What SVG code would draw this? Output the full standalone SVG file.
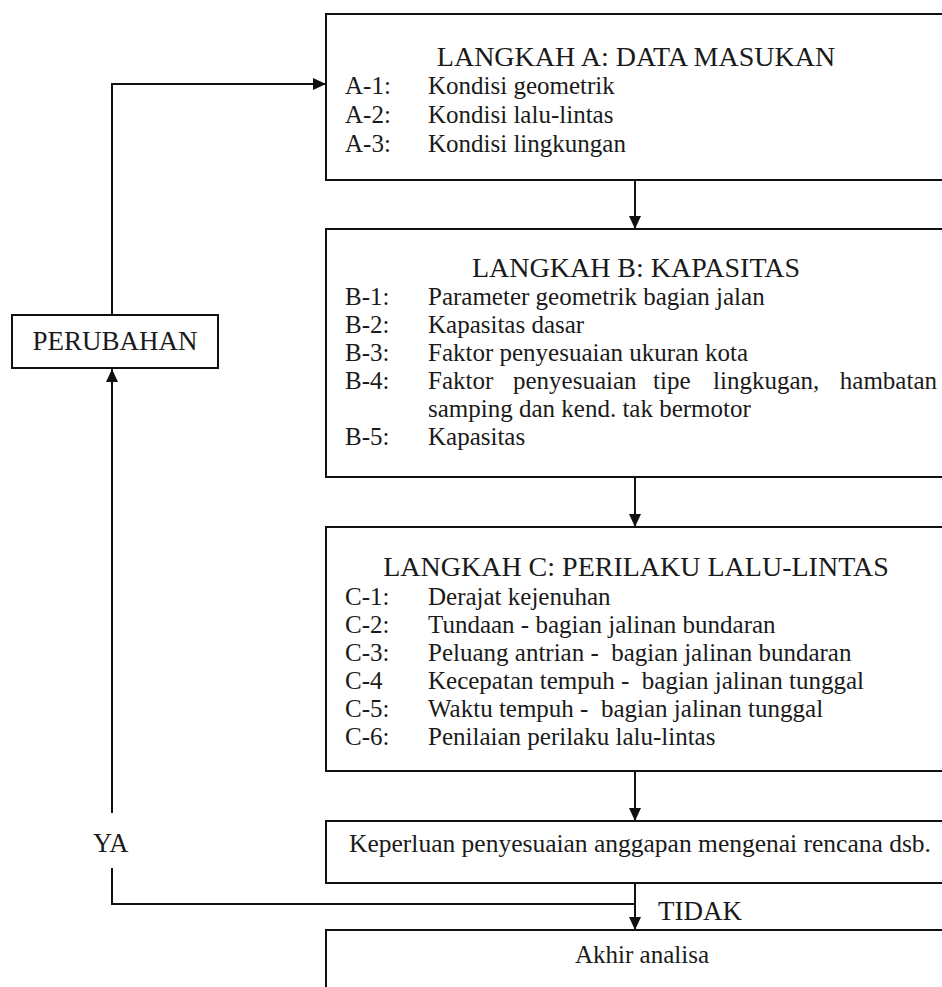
<svg xmlns="http://www.w3.org/2000/svg" width="942" height="987" viewBox="0 0 942 987">
<defs>
<marker id="ah" markerWidth="13" markerHeight="12" refX="13" refY="6" orient="auto" markerUnits="userSpaceOnUse">
<path d="M0,0 L13,6 L0,12 z" fill="#111"/>
</marker>
</defs>
<style>
.box{fill:#fff;stroke:#111;stroke-width:2}
.t{font-family:"Liberation Serif","Times New Roman",serif;fill:#1a1a1a}
.h{font-size:28px;text-anchor:middle}
.i{font-size:25px}
.c{text-anchor:middle}
.ln{fill:none;stroke:#111;stroke-width:2}
</style>
<rect width="942" height="987" fill="#fff"/>
<g id="connectors">
<path class="ln" d="M635,181 V229" marker-end="url(#ah)"/>
<path class="ln" d="M635,478 V527" marker-end="url(#ah)"/>
<path class="ln" d="M635,772 V821" marker-end="url(#ah)"/>
<path class="ln" d="M635,884 V930" marker-end="url(#ah)"/>
<path class="ln" d="M635,904 H112 V868"/>
<path class="ln" d="M112,813 V369" marker-end="url(#ah)"/>
<path class="ln" d="M112,315 V84 H326" marker-end="url(#ah)"/>
<text class="t" x="93" y="852" font-size="26.5">YA</text>
<text class="t" x="658" y="920" font-size="27">TIDAK</text>
</g>
<g id="nodeA">
<rect class="box" x="326" y="14" width="622" height="166"/>
<text class="t h" x="636" y="66">LANGKAH A: DATA MASUKAN</text>
<text class="t i" x="345" y="94">A-1:</text><text class="t i" x="428" y="94">Kondisi geometrik</text>
<text class="t i" x="345" y="123">A-2:</text><text class="t i" x="428" y="123">Kondisi lalu-lintas</text>
<text class="t i" x="345" y="152">A-3:</text><text class="t i" x="428" y="152">Kondisi lingkungan</text>
</g>
<g id="nodeB">
<rect class="box" x="326" y="229" width="622" height="248"/>
<text class="t h" x="636" y="277">LANGKAH B: KAPASITAS</text>
<text class="t i" x="345" y="305">B-1:</text><text class="t i" x="428" y="305">Parameter geometrik bagian jalan</text>
<text class="t i" x="345" y="333">B-2:</text><text class="t i" x="428" y="333">Kapasitas dasar</text>
<text class="t i" x="345" y="361">B-3:</text><text class="t i" x="428" y="361">Faktor penyesuaian ukuran kota</text>
<text class="t i" x="345" y="389">B-4:</text>
<text class="t i" y="389"><tspan x="428">Faktor</tspan><tspan x="513">penyesuaian</tspan><tspan x="653">tipe</tspan><tspan x="713">lingkugan,</tspan><tspan x="937" text-anchor="end">hambatan</tspan></text>
<text class="t i" x="428" y="417">samping dan kend. tak bermotor</text>
<text class="t i" x="345" y="445">B-5:</text><text class="t i" x="428" y="445">Kapasitas</text>
</g>
<g id="nodeC">
<rect class="box" x="326" y="527" width="622" height="244"/>
<text class="t h" x="636" y="576">LANGKAH C: PERILAKU LALU-LINTAS</text>
<text class="t i" x="345" y="605">C-1:</text><text class="t i" x="428" y="605">Derajat kejenuhan</text>
<text class="t i" x="345" y="633">C-2:</text><text class="t i" x="428" y="633">Tundaan - bagian jalinan bundaran</text>
<text class="t i" x="345" y="661">C-3:</text><text class="t i" x="428" y="661">Peluang antrian -&#160; bagian jalinan bundaran</text>
<text class="t i" x="345" y="689">C-4</text><text class="t i" x="428" y="689">Kecepatan tempuh -&#160; bagian jalinan tunggal</text>
<text class="t i" x="345" y="717">C-5:</text><text class="t i" x="428" y="717">Waktu tempuh -&#160; bagian jalinan tunggal</text>
<text class="t i" x="345" y="745">C-6:</text><text class="t i" x="428" y="745">Penilaian perilaku lalu-lintas</text>
</g>
<g id="nodeD">
<rect class="box" x="326" y="821" width="622" height="62"/>
<text class="t c" x="640" y="852" font-size="25.5">Keperluan penyesuaian anggapan mengenai rencana dsb.</text>
</g>
<g id="nodeE">
<rect class="box" x="326" y="930" width="622" height="80"/>
<text class="t i c" x="642" y="963">Akhir analisa</text>
</g>
<g id="perubahan">
<rect class="box" x="12" y="315" width="206" height="53"/>
<text class="t" x="115" y="350" font-size="27" text-anchor="middle">PERUBAHAN</text>
</g>
</svg>
